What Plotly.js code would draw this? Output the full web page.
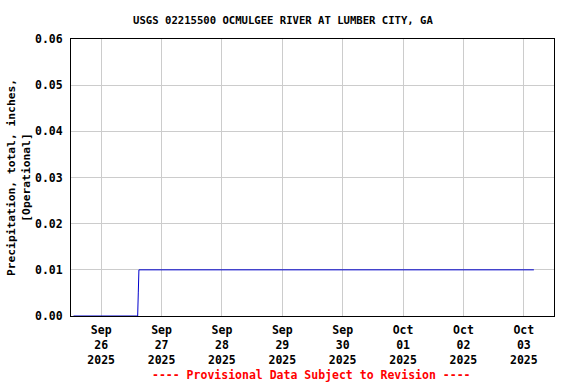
<!DOCTYPE html>
<html>
<head>
<meta charset="utf-8">
<script src="https://cdn.plot.ly/plotly-3.0.1.min.js"></script>
<style>html,body{margin:0;padding:0;background:#fff;}#chart{width:576px;height:384px;}</style>
</head>
<body>
<div id="chart"></div>
<script>
// Cumulative precipitation (inches)
const times = [
  "2025-09-25 13:00",
  "2025-09-26 14:30",
  "2025-09-26 14:45",
  "2025-09-26 15:00",
  "2025-10-03 04:00"
];
const precip = [0.00, 0.00, 0.005, 0.01, 0.01];

const tickDates = ["2025-09-26","2025-09-27","2025-09-28","2025-09-29","2025-09-30","2025-10-01","2025-10-02","2025-10-03"];
const tickLabels = ["Sep<br>26<br>2025","Sep<br>27<br>2025","Sep<br>28<br>2025","Sep<br>29<br>2025","Sep<br>30<br>2025","Oct<br>01<br>2025","Oct<br>02<br>2025","Oct<br>03<br>2025"];
const yTicks = [0, 0.01, 0.02, 0.03, 0.04, 0.05, 0.06];
const yTickLabels = ["0.00","0.01","0.02","0.03","0.04","0.05","0.06"];

const FONT = "DejaVu Sans Mono, monospace";

const trace = {
  x: times, y: precip, type: "scatter", mode: "lines",
  line: {color: "#0000cc", width: 1},
  hoverinfo: "skip"
};

const layout = {
  width: 576, height: 384,
  margin: {l: 71, r: 22, t: 39, b: 68},
  paper_bgcolor: "#fff", plot_bgcolor: "#fff",
  showlegend: false,
  title: {
    text: "<b>USGS 02215500 OCMULGEE RIVER AT LUMBER CITY, GA</b>",
    font: {family: FONT, size: 10.6, color: "#000"},
    x: 283 / 576, xanchor: "center", y: 1 - 20/384, yanchor: "middle"
  },
  xaxis: {
    type: "date",
    range: ["2025-09-25 12:00", "2025-10-03 12:00"],
    tickvals: tickDates, ticktext: tickLabels.map(t => "<b>" + t + "</b>"),
    tickangle: 0,
    tickfont: {family: FONT, size: 11.5, color: "#000"},
    ticklabelstandoff: 3,
    showgrid: true, gridcolor: "#cccccc", gridwidth: 1,
    showline: true, linecolor: "#000", linewidth: 1, mirror: true,
    ticks: "", zeroline: false
  },
  yaxis: {
    range: [0, 0.06],
    tickvals: yTicks, ticktext: yTickLabels.map(t => "<b>" + t + "</b>"),
    tickfont: {family: FONT, size: 11.5, color: "#000"},
    ticklabelstandoff: 5,
    showgrid: true, gridcolor: "#cccccc", gridwidth: 1,
    showline: true, linecolor: "#000", linewidth: 1, mirror: true,
    ticks: "", zeroline: false,
    title: {
      text: "<b>Precipitation, total, inches,<br>[Operational]</b>",
      font: {family: FONT, size: 11.3, color: "#000"},
      standoff: 2
    }
  },
  annotations: [{
    text: "<b>---- Provisional Data Subject to Revision ----</b>",
    xref: "paper", yref: "paper",
    x: (311 - 71) / (554 - 71), y: -(375 - 316) / (316 - 39),
    xanchor: "center", yanchor: "middle", showarrow: false,
    font: {family: FONT, size: 11.5, color: "#ff0000"}
  }]
};

Plotly.newPlot("chart", [trace], layout, {staticPlot: true, displayModeBar: false});
</script>
</body>
</html>
